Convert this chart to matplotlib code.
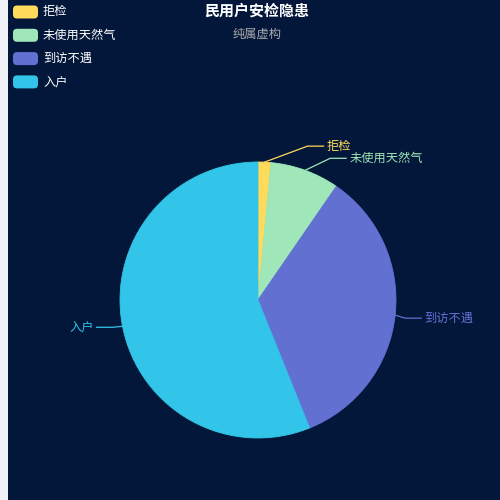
import matplotlib
matplotlib.use("Agg")
import matplotlib.pyplot as plt
from matplotlib.patches import Rectangle, FancyBboxPatch
import numpy as np

plt.rcParams['font.family'] = ['Noto Sans CJK SC', 'DejaVu Sans']

title = "民用户安检隐患"
subtitle = "纯属虚构"
categories = ["拒检", "未使用天然气", "到访不遇", "入户"]
values = [15, 81, 343, 561]
colors = ["#ffdb5c", "#9fe6b8", "#6270d2", "#32c5e9"]

BG = "#02173a"
W = H = 500
fig = plt.figure(figsize=(5, 5), dpi=100)
fig.patch.set_facecolor(BG)
ax = fig.add_axes([0, 0, 1, 1])
ax.set_xlim(0, W)
ax.set_ylim(0, H)
ax.set_aspect('equal')
ax.axis('off')
ax.set_facecolor(BG)

# light strip on the left edge
ax.add_patch(Rectangle((0, 0), 8, H, facecolor="#f0f2f7", edgecolor="none", zorder=0))

cx, cy, R = 258, H - 300, 138
wedges, _ = ax.pie(values, colors=colors, startangle=90, counterclock=False,
                   center=(cx, cy), radius=R, frame=True,
                   wedgeprops=dict(linewidth=0))
for w, col in zip(wedges, colors):
    w.set_edgecolor(col)
    w.set_linewidth(0.6)
ax.set_xlim(0, W)
ax.set_ylim(0, H)
ax.axis('off')

# label lines: elbow offsets (px) and horizontal leg
elbows = [(43, 16), (25, 12), (10, -3), (-10, -1)]
leg = 16
for w, lab, col, (ex, ey) in zip(wedges, categories, colors, elbows):
    ang = np.deg2rad((w.theta1 + w.theta2) / 2)
    x0 = cx + R * np.cos(ang)
    y0 = cy + R * np.sin(ang)
    x1, y1 = x0 + ex, y0 + ey
    side = 1 if ex >= 0 else -1
    x2 = x1 + side * leg
    ax.plot([x0, x1, x2], [y0, y1, y1], color=col, lw=0.9, zorder=3)
    ax.text(x2 + side * 3, y1, lab, color=col, fontsize=8.8,
            ha='left' if side > 0 else 'right', va='center', zorder=4)

# title
ax.text(257, H - 11, title, color='white', fontsize=10.8, fontweight='bold',
        ha='center', va='center')
ax.text(257, H - 34, subtitle, color='#aaaaaa', fontsize=8.8,
        ha='center', va='center')

# legend
for i, (lab, col) in enumerate(zip(categories, colors)):
    yc = H - (12 + i * 23.3)
    ax.add_patch(FancyBboxPatch((13, yc - 6.5), 25, 13,
                                boxstyle="round,pad=0,rounding_size=4",
                                facecolor=col, edgecolor='none'))
    ax.text(43, yc, lab, color='white', fontsize=8.8, fontweight='medium',
            ha='left', va='center')

fig.savefig("out.png", dpi=100, facecolor=BG)
